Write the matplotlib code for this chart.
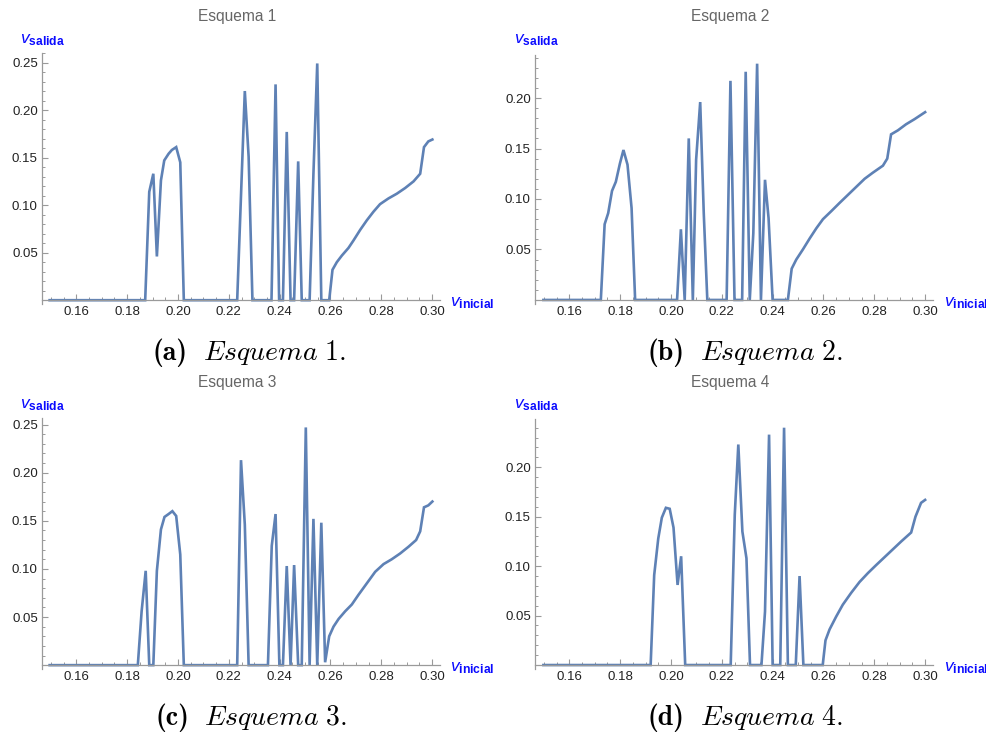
import matplotlib
matplotlib.use("Agg")
import matplotlib.pyplot as plt
from matplotlib.ticker import MultipleLocator, FixedLocator, FormatStrFormatter

plt.rcParams['font.family'] = ['Liberation Sans', 'DejaVu Sans']
plt.rcParams['mathtext.rm'] = 'Liberation Sans'
plt.rcParams['mathtext.it'] = 'Liberation Sans:italic'
plt.rcParams['mathtext.bf'] = 'Liberation Sans:bold'

# ---------------- data ----------------
x_a = [0.1495, 0.1871, 0.1887, 0.1903, 0.1917, 0.1933, 0.1946, 0.1963, 0.1976, 0.1993, 0.2009, 0.2023,
       0.2233, 0.2263, 0.2278, 0.2293, 0.2368, 0.2384, 0.2398, 0.2413, 0.2428, 0.2443, 0.2457, 0.2473,
       0.2487, 0.2518, 0.2533, 0.2548, 0.2564, 0.2595, 0.2608, 0.2625, 0.2645, 0.2671, 0.2691, 0.2717,
       0.2743, 0.2769, 0.2795, 0.2828, 0.2861, 0.2894, 0.2927, 0.2953, 0.2968, 0.2985, 0.3001]
y_a = [0, 0, 0.114, 0.133, 0.046, 0.126, 0.147, 0.154, 0.158, 0.161, 0.145, 0,
       0, 0.220, 0.151, 0, 0, 0.227, 0, 0, 0.177, 0, 0, 0.146,
       0, 0, 0.133, 0.249, 0, 0, 0.032, 0.040, 0.047, 0.055, 0.063, 0.074,
       0.084, 0.093, 0.101, 0.107, 0.112, 0.118, 0.125, 0.133, 0.161, 0.167, 0.169]

x_b = [0.1498, 0.1724, 0.1739, 0.1753, 0.1768, 0.1783, 0.1799, 0.1813, 0.1829, 0.1845, 0.1859,
       0.2024, 0.2039, 0.2054, 0.2070, 0.2086, 0.2099, 0.2115, 0.2129, 0.2143, 0.2219, 0.2234,
       0.2250, 0.2280, 0.2294, 0.2310, 0.2324, 0.2339, 0.2354, 0.2370, 0.2384, 0.2400, 0.2460,
       0.2475, 0.2493, 0.2519, 0.2546, 0.2572, 0.2598, 0.2631, 0.2663, 0.2696, 0.2729, 0.2762,
       0.2794, 0.2834, 0.2851, 0.2866, 0.2893, 0.2925, 0.2958, 0.3000]
y_b = [0, 0, 0.075, 0.086, 0.108, 0.117, 0.135, 0.1485, 0.134, 0.091, 0,
       0, 0.070, 0, 0.160, 0, 0.139, 0.196, 0.086, 0, 0, 0.217,
       0, 0, 0.226, 0, 0.066, 0.234, 0, 0.119, 0.081, 0, 0,
       0.031, 0.040, 0.050, 0.061, 0.071, 0.080, 0.088, 0.096, 0.104, 0.112, 0.120,
       0.126, 0.133, 0.140, 0.164, 0.168, 0.174, 0.179, 0.186]

x_c = [0.1495, 0.1842, 0.1857, 0.1873, 0.1887, 0.1903, 0.1917, 0.1933, 0.1947, 0.1963, 0.1978,
       0.1993, 0.2009, 0.2023, 0.2233, 0.2248, 0.2263, 0.2278, 0.2354, 0.2369, 0.2384, 0.2399,
       0.2413, 0.2428, 0.2443, 0.2457, 0.2473, 0.2487, 0.2503, 0.2518, 0.2533, 0.2548, 0.2564,
       0.2579, 0.2595, 0.2612, 0.2632, 0.2658, 0.2684, 0.2710, 0.2743, 0.2776, 0.2809, 0.2841,
       0.2874, 0.2907, 0.2937, 0.2953, 0.2968, 0.2985, 0.3001]
y_c = [0, 0, 0.056, 0.098, 0, 0, 0.098, 0.141, 0.154, 0.157, 0.160,
       0.155, 0.115, 0, 0, 0.213, 0.146, 0, 0, 0.124, 0.157, 0,
       0, 0.103, 0, 0.104, 0, 0, 0.247, 0, 0.152, 0, 0.148,
       0.003, 0.030, 0.040, 0.048, 0.056, 0.063, 0.073, 0.085, 0.097, 0.105, 0.110,
       0.116, 0.123, 0.130, 0.139, 0.164, 0.166, 0.170]

x_d = [0.1498, 0.1920, 0.1934, 0.1950, 0.1964, 0.1980, 0.1995, 0.2010, 0.2026, 0.2040, 0.2056,
       0.2235, 0.2251, 0.2265, 0.2281, 0.2297, 0.2311, 0.2356, 0.2370, 0.2386, 0.2400, 0.2430,
       0.2445, 0.2460, 0.2491, 0.2506, 0.2521, 0.2597, 0.2608, 0.2624, 0.2650, 0.2676, 0.2709,
       0.2742, 0.2775, 0.2807, 0.2840, 0.2873, 0.2906, 0.2945, 0.2962, 0.2984, 0.3000]
y_d = [0, 0, 0.091, 0.128, 0.149, 0.159, 0.158, 0.139, 0.081, 0.110, 0,
       0, 0.152, 0.223, 0.135, 0.108, 0, 0, 0.054, 0.233, 0, 0,
       0.240, 0, 0, 0.090, 0, 0, 0.025, 0.036, 0.049, 0.061, 0.073,
       0.084, 0.093, 0.101, 0.109, 0.117, 0.125, 0.134, 0.150, 0.164, 0.167]

titles = ["Esquema 1", "Esquema 2", "Esquema 3", "Esquema 4"]
cap_tags = ["(a)", "(b)", "(c)", "(d)"]
cap_texts = [r"$\mathit{Esquema}\ 1.$", r"$\mathit{Esquema}\ 2.$",
             r"$\mathit{Esquema}\ 3.$", r"$\mathit{Esquema}\ 4.$"]
y_tops = [0.26, 0.2426, 0.2568, 0.2488]

# ---------------- figure ----------------
W, H = 987, 735
fig = plt.figure(figsize=(W / 100, H / 100), dpi=100)
renderer = fig.canvas.get_renderer()

boxes = [(42, 53, 398, 251), (535, 55, 398, 249), (42, 418, 398, 251), (535, 419, 398, 250)]
series = [(x_a, y_a), (x_b, y_b), (x_c, y_c), (x_d, y_d)]
title_pos = [(237, 17), (730, 17), (237, 382), (730, 382)]
cap_pos = [(153, 360), (648, 360), (155, 725), (648, 725)]
ylab_pos = [(20, 40), (514, 40), (20, 405), (514, 405)]
xlab_pos = [(450, 303), (944, 303), (450, 668), (944, 668)]

LINE = '#5E81B5'
AX = '#9a9a9a'
for i in range(4):
    l, t, w, h = boxes[i]
    ax = fig.add_axes([l / W, 1 - (t + h) / H, w / W, h / H])
    xs, ys = series[i]
    ax.plot(xs, ys, color=LINE, lw=1.9, solid_joinstyle='miter', clip_on=False)
    ax.set_xlim(0.1465, 0.3031)
    ax.set_ylim(-0.004, y_tops[i])
    for s in ['top', 'right']:
        ax.spines[s].set_visible(False)
    ax.spines['bottom'].set_position(('data', 0))
    for s in ['left', 'bottom']:
        ax.spines[s].set_color(AX)
        ax.spines[s].set_linewidth(0.9)
    ax.xaxis.set_major_locator(FixedLocator([0.16, 0.18, 0.20, 0.22, 0.24, 0.26, 0.28, 0.30]))
    ax.xaxis.set_minor_locator(MultipleLocator(0.005))
    yt = [v for v in [0.05, 0.10, 0.15, 0.20, 0.25] if v <= y_tops[i]]
    ax.yaxis.set_major_locator(FixedLocator(yt))
    ax.yaxis.set_minor_locator(MultipleLocator(0.01))
    ax.xaxis.set_major_formatter(FormatStrFormatter('%.2f'))
    ax.yaxis.set_major_formatter(FormatStrFormatter('%.2f'))
    ax.tick_params(which='major', direction='in', length=4.5, width=0.8, color=AX,
                   labelsize=9.5, labelcolor='#222222', pad=3)
    ax.tick_params(which='minor', direction='in', length=2.5, width=0.7, color=AX)
    ax.tick_params(axis='x', which='major', pad=4)
    ax.patch.set_visible(False)

    fig.text(title_pos[i][0] / W, 1 - title_pos[i][1] / H, titles[i], ha='center', va='center',
             fontsize=11.2, color='#666666')
    fig.text(ylab_pos[i][0] / W, 1 - ylab_pos[i][1] / H, r'$\mathit{v}_{\mathbf{salida}}$',
             ha='left', va='center', fontsize=12.5, color='#0a0aff', math_fontfamily='custom')
    fig.text(xlab_pos[i][0] / W, 1 - xlab_pos[i][1] / H, r'$\mathit{v}_{\mathbf{inicial}}$',
             ha='left', va='center', fontsize=12.5, color='#0a0aff', math_fontfamily='custom')
    t1 = fig.text(cap_pos[i][0] / W, 1 - cap_pos[i][1] / H, cap_tags[i], ha='left', va='baseline',
                  fontsize=20, family='cmb10', color='black')
    bb = t1.get_window_extent(renderer)
    fig.text((bb.x1 + 15) / W, 1 - cap_pos[i][1] / H, cap_texts[i], ha='left', va='baseline',
             fontsize=20, color='black', math_fontfamily='cm')

fig.savefig('out.png', dpi=100)
